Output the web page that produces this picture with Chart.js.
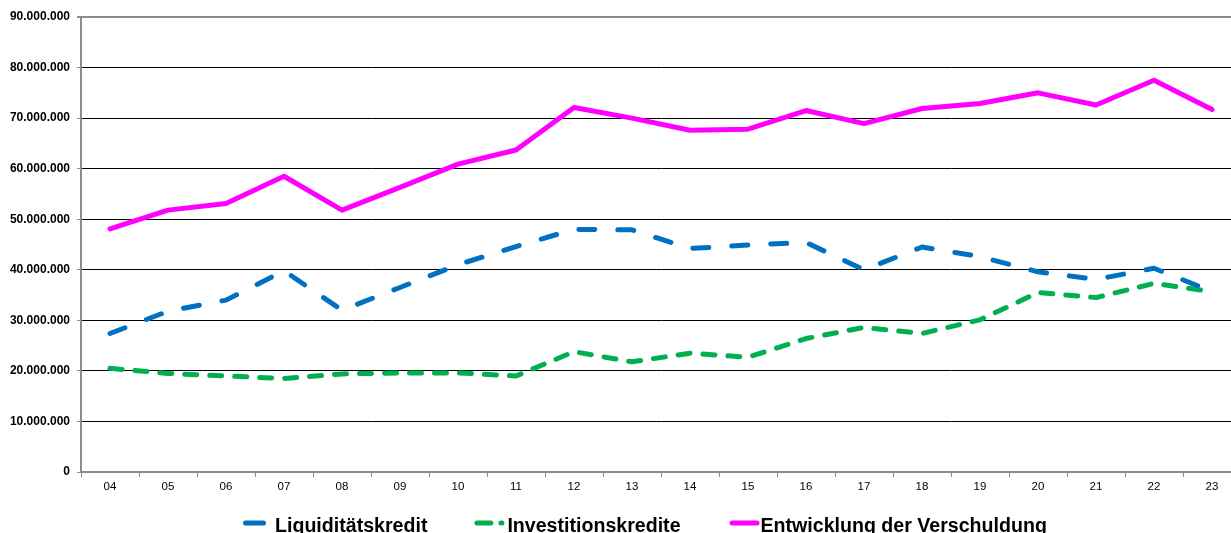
<!DOCTYPE html>
<html>
<head>
<meta charset="utf-8">
<script src="https://cdn.jsdelivr.net/npm/chart.js@4"></script>
<style>
    html, body { margin: 0; padding: 0; background: #fff; overflow: hidden; }
    #wrap { position: relative; width: 1241px; height: 533px; }
</style>
</head>
<body>
<div id="wrap"><canvas id="grafico"></canvas></div>
<script>
const jahre = ['04', '05', '06', '07', '08', '09', '10', '11', '12', '13',
               '14', '15', '16', '17', '18', '19', '20', '21', '22', '23'];

const liquiditaetskredit = [27400000, 31800000, 34000000, 39800000, 32000000, 36500000, 41000000, 44600000, 48000000, 47900000,
                            44200000, 44900000, 45400000, 40000000, 44500000, 42600000, 39600000, 38100000, 40300000, 35700000];

const investitionskredite = [20500000, 19500000, 19000000, 18500000, 19400000, 19600000, 19600000, 19000000, 23800000, 21800000,
                             23500000, 22700000, 26400000, 28600000, 27400000, 30100000, 35500000, 34500000, 37300000, 35700000];

const verschuldung = [48100000, 51800000, 53100000, 58500000, 51800000, 56300000, 60900000, 63700000, 72100000, 70000000,
                      67600000, 67800000, 71500000, 68900000, 71900000, 72900000, 75000000, 72600000, 77500000, 71700000];

const yMax = 90000000;
const yStep = 10000000;

const farben = {
    blau: '#0070C0',
    gruen: '#00B050',
    magenta: '#FF00FF',
    achse: '#8c8c8c'
};

function formatZahl(v) {
    return String(Math.round(v)).replace(/\B(?=(\d{3})+(?!\d))/g, '.');
}

// Legende unten, selbst gezeichnet (Linienmuster wie im Original)
const legendePlugin = {
    id: 'legendeUnten',
    afterDraw(chart) {
        const ctx = chart.ctx;
        const y = 523;
        let x = 243;
        ctx.save();
        ctx.font = 'bold 19.6px "Liberation Sans", Arial, sans-serif';
        ctx.textBaseline = 'alphabetic';
        ctx.fillStyle = '#000';
        const muster = [
            { len: 23, gapText: 9, gapNext: 47, dash: [] },
            { len: 30, gapText: 3, gapNext: 49, dash: [14, 10] },
            { len: 30, gapText: 1, gapNext: 0, dash: [] }
        ];
        chart.data.datasets.forEach((ds, i) => {
            const m = muster[i];
            ctx.beginPath();
            ctx.strokeStyle = ds.borderColor;
            ctx.lineWidth = 5;
            ctx.lineCap = 'round';
            ctx.setLineDash(m.dash);
            ctx.moveTo(x + 2.5, y);
            ctx.lineTo(x + m.len - 2.5, y);
            ctx.stroke();
            ctx.setLineDash([]);
            x += m.len + m.gapText;
            ctx.fillText(ds.label, x, 532);
            x += ctx.measureText(ds.label).width + m.gapNext;
        });
        ctx.restore();
    }
};

const ctx = document.getElementById('grafico');

new Chart(ctx, {
    type: 'line',
    data: {
        labels: jahre,
        datasets: [
            {
                label: 'Liquiditätskredit',
                data: liquiditaetskredit,
                borderColor: farben.blau,
                borderWidth: 5,
                borderDash: [16, 23],
                borderCapStyle: 'round',
                borderJoinStyle: 'round',
                pointRadius: 0,
                tension: 0,
                fill: false
            },
            {
                label: 'Investitionskredite',
                data: investitionskredite,
                borderColor: farben.gruen,
                borderWidth: 5,
                borderDash: [12, 13],
                borderCapStyle: 'round',
                borderJoinStyle: 'round',
                pointRadius: 0,
                tension: 0,
                fill: false
            },
            {
                label: 'Entwicklung der Verschuldung',
                data: verschuldung,
                borderColor: farben.magenta,
                borderWidth: 5,
                borderCapStyle: 'round',
                borderJoinStyle: 'round',
                pointRadius: 0,
                tension: 0,
                fill: false
            }
        ]
    },
    options: {
        responsive: true,
        maintainAspectRatio: false,
        animation: false,
        layout: {
            padding: { top: 17, right: 0, bottom: 0, left: 0 }
        },
        plugins: {
            legend: { display: false },
            tooltip: { enabled: false }
        },
        scales: {
            x: {
                offset: true,
                grid: {
                    offset: true,
                    drawOnChartArea: false,
                    drawTicks: true,
                    tickLength: 5,
                    tickColor: farben.achse,
                    tickWidth: 1
                },
                border: { color: farben.achse, width: 2 },
                ticks: {
                    color: '#000',
                    padding: 3,
                    maxRotation: 0,
                    autoSkip: false,
                    font: { family: '"Liberation Sans", Arial, sans-serif', size: 11.5 }
                },
                afterFit: (scale) => { scale.height = 61; }
            },
            y: {
                min: 0,
                max: yMax,
                grid: {
                    color: (c) => (c.tick && c.tick.value === yMax) ? farben.achse : '#000',
                    lineWidth: (c) => (c.tick && c.tick.value === yMax) ? 2 : 1,
                    drawTicks: true,
                    tickLength: 4,
                    tickColor: farben.achse
                },
                border: { color: farben.achse, width: 2 },
                ticks: {
                    stepSize: yStep,
                    color: '#000',
                    padding: 7,
                    font: { family: '"Liberation Sans", Arial, sans-serif', size: 12, weight: 'bold' },
                    callback: (value) => formatZahl(value)
                },
                afterFit: (scale) => { scale.width = 81; }
            }
        }
    },
    plugins: [legendePlugin]
});
</script>
</body>
</html>
